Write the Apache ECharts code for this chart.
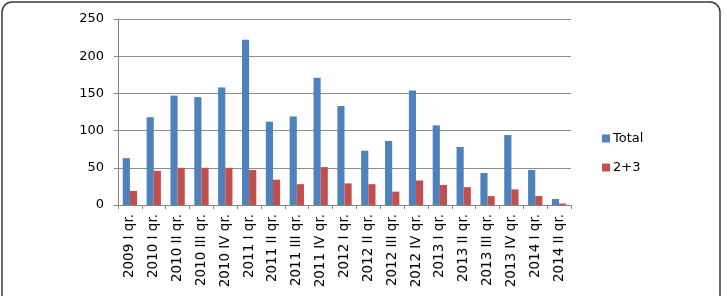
<!DOCTYPE html>
<html>
<head>
<meta charset="utf-8">
<style>
  html, body { margin: 0; padding: 0; background: #fff; }
  #chart { width: 727px; height: 296px; }
</style>
<script src="https://cdn.jsdelivr.net/npm/echarts@6/dist/echarts.min.js"></script>
</head>
<body>
<div id="chart"></div>
<script>
// quarters on the x axis
var categories = ['2009 I qr.', '2010 I qr.', '2010 II qr.', '2010 III qr.', '2010 IV qr.',
  '2011 I qr.', '2011 II qr.', '2011 III qr.', '2011 IV qr.', '2012 I qr.', '2012 II qr.',
  '2012 III qr.', '2012 IV qr.', '2013 I qr.', '2013 II qr.', '2013 III qr.', '2013 IV qr.',
  '2014 I qr.', '2014 II qr.'];
var totalValues = [63, 118, 147, 145, 158, 222, 112, 119, 171, 133, 73, 86, 154, 107, 78, 43, 94, 47, 8];
var grp23Values = [19, 46, 50, 50, 50, 47, 34, 28, 51, 29, 28, 18, 33, 27, 24, 12, 21, 12, 2];
var yTicks = [0, 50, 100, 150, 200, 250];

var font = 'DejaVu Sans';
var myChart = echarts.init(document.getElementById('chart'));
var option = {
  animation: false,
  backgroundColor: '#fff',
  graphic: [{
    type: 'rect',
    shape: { x: 2, y: 2, width: 718, height: 320, r: 10 },
    style: { fill: 'none', stroke: '#3a3a3a', lineWidth: 1.5 },
    silent: true
  }],
  legend: {
    orient: 'vertical',
    left: 597,
    top: 127,
    itemWidth: 8,
    itemHeight: 8,
    itemGap: 16,
    icon: 'rect',
    textStyle: { fontFamily: font, fontSize: 13, color: '#000', padding: [0, 0, 0, -2] },
    data: ['Total', '2+3']
  },
  grid: { left: 118, right: 156, top: 19, bottom: 91 },
  xAxis: {
    type: 'category',
    data: categories,
    axisLine: { lineStyle: { color: '#868686' } },
    axisTick: { show: true, length: 4, lineStyle: { color: '#868686' } },
    axisLabel: {
      rotate: 90,
      interval: 0,
      margin: 9,
      fontFamily: font,
      fontSize: 13.5,
      color: '#000'
    }
  },
  yAxis: {
    type: 'value',
    min: yTicks[0],
    max: yTicks[yTicks.length - 1],
    interval: 50,
    axisLine: { show: true, lineStyle: { color: '#868686' } },
    axisTick: { show: true, length: 4, lineStyle: { color: '#868686' } },
    splitLine: { lineStyle: { color: '#8c8c8c', width: 1 } },
    axisLabel: { fontFamily: font, fontSize: 13, color: '#000', margin: 14 }
  },
  series: [
    {
      name: 'Total',
      type: 'bar',
      data: totalValues,
      barGap: '0%',
      barCategoryGap: '40%',
      itemStyle: { color: '#4F81BD' }
    },
    {
      name: '2+3',
      type: 'bar',
      data: grp23Values,
      itemStyle: { color: '#C0504D' }
    }
  ]
};
myChart.setOption(option);
</script>
</body>
</html>
